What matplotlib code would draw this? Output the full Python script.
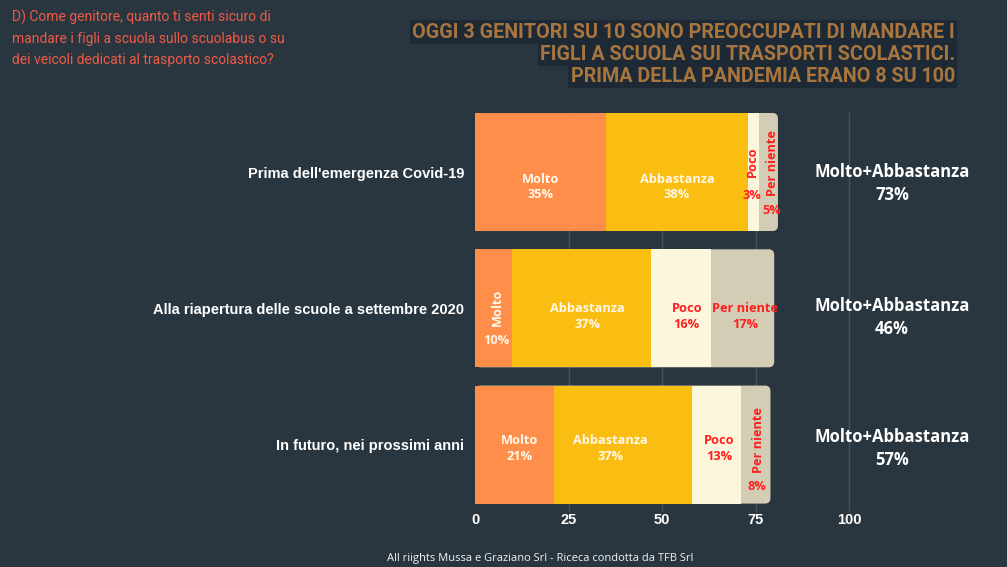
import matplotlib
matplotlib.use("Agg")
import matplotlib.pyplot as plt
from matplotlib.patches import FancyBboxPatch

# ---------------- data ----------------
categories = ["Prima dell'emergenza Covid-19",
              "Alla riapertura delle scuole a settembre 2020",
              "In futuro, nei prossimi anni"]
segment_names = ["Molto", "Abbastanza", "Poco", "Per niente"]
molto = [35, 10, 21]
abbastanza = [38, 37, 37]
poco = [3, 16, 13]
per_niente = [5, 17, 8]
molto_abbastanza = [73, 46, 57]
xticks = [0, 25, 50, 75, 100]
summary_label = "Molto+Abbastanza"
question = ("D) Come genitore, quanto ti senti sicuro di\n"
            "mandare i figli a scuola sullo scuolabus o su\n"
            "dei veicoli dedicati al trasporto scolastico?")
title_lines = ["OGGI 3 GENITORI SU 10 SONO PREOCCUPATI DI MANDARE I",
               "FIGLI A SCUOLA SUI TRASPORTI SCOLASTICI.",
               "PRIMA DELLA PANDEMIA ERANO 8 SU 100"]
footer = "All riights Mussa e Graziano Srl - Riceca condotta da TFB Srl"

# ---------------- style ----------------
BG = "#2a363f"
TITLE_BG = "#1d2a35"
TITLE_C = "#a8753f"
Q_C = "#ee5a47"
seg_colors = ["#ff8e4b", "#f9be11", "#fcf7dc", "#d3cdb6"]
seg_text = ["#fff8ea", "#fff8ea", "#ff1f1f", "#ff1f1f"]
LBL_FONT = ["Open Sans", "DejaVu Sans"]
ARIAL = ["Liberation Sans", "DejaVu Sans"]

W, H = 1007, 567
fig = plt.figure(figsize=(W / 100, H / 100), dpi=100, facecolor=BG)

ax_l, ax_r, ax_t, ax_b = 475, 849, 113, 510
ax = fig.add_axes([ax_l / W, 1 - ax_b / H, (ax_r - ax_l) / W, (ax_b - ax_t) / H])
ax.set_facecolor(BG)
ax.set_xlim(0, 100)
ylo, yhi = 2.48, -0.433
ax.set_ylim(ylo, yhi)
px_x = (ax_r - ax_l) / 100.0
px_y = (ax_b - ax_t) / (ylo - yhi)

bar_h = 0.866
ypos = list(range(len(categories)))
series = [molto, abbastanza, poco, per_niente]

for i in ypos:
    total = sum(s[i] for s in series)
    r = 5.5 / px_x
    patch = FancyBboxPatch((0, i - bar_h / 2), total, bar_h,
                           boxstyle=f"round,pad=0,rounding_size={r}",
                           mutation_aspect=(5.5 / px_y) / r,
                           facecolor=seg_colors[3], edgecolor="none", zorder=2)
    ax.add_patch(patch)

left = [0] * len(categories)
for k in range(3):
    ax.barh(ypos, series[k], left=left, height=bar_h, color=seg_colors[k],
            edgecolor="none", zorder=3)
    left = [a + b for a, b in zip(left, series[k])]

# label placement (pixel offsets from segment centre); 'v' => rotated name
layout = {
    (0, 0): ("h", 0, 15), (0, 1): ("h", 0, 15),
    (0, 2): ("v", -1.0, -10, -1.5, 23), (0, 3): ("v", 3.5, -9, 3.2, 38),
    (1, 0): ("v", 3.5, -1, 2.7, 32), (1, 1): ("h", 6, 8),
    (1, 2): ("h", 6, 8), (1, 3): ("h", 3, 8),
    (2, 0): ("h", 5, 4), (2, 1): ("h", -12, 4),
    (2, 2): ("h", 3, 4), (2, 3): ("v", 3.5, -4.5, 1.5, 41.5),
}
summary_dy = [11.5, 9.5, 4]
fs = 9.2
for i in ypos:
    start = 0
    for k in range(4):
        v = series[k][i]
        cx = start + v / 2
        spec = layout[(i, k)]
        if spec[0] == "h":
            ax.text(cx + spec[1] / px_x, i + spec[2] / px_y,
                    f"{segment_names[k]}\n{v}%", ha="center", va="center",
                    fontsize=fs, fontweight="bold", color=seg_text[k],
                    family=LBL_FONT, linespacing=1.25, zorder=5)
        else:
            ax.text(cx + spec[1] / px_x, i + spec[2] / px_y, segment_names[k],
                    rotation=90, ha="center", va="center", fontsize=fs,
                    fontweight="bold", color=seg_text[k], family=LBL_FONT, zorder=5)
            ax.text(cx + spec[3] / px_x, i + spec[4] / px_y, f"{v}%",
                    ha="center", va="center", fontsize=fs, fontweight="bold",
                    color=seg_text[k], family=LBL_FONT, zorder=5)
        start += v

# summary on the right
for i in ypos:
    ax.text(111.5, i + summary_dy[i] / px_y,
            f"{summary_label}\n{molto_abbastanza[i]}%", ha="center",
            va="center", fontsize=12, fontweight="bold", color="#ffffff",
            family=LBL_FONT, linespacing=1.35, clip_on=False)

# axes styling
ax.set_yticks(ypos)
ax.set_yticklabels(categories, fontsize=10.5, fontweight="bold",
                   color="#ffffff", family=ARIAL)
ax.set_xticks(xticks)
ax.set_xticklabels([str(t) for t in xticks], fontsize=10.5, fontweight="bold",
                   color="#ffffff", family=ARIAL)
ax.tick_params(axis="both", length=0)
ax.tick_params(axis="y", pad=8)
ax.tick_params(axis="x", pad=2)
for s in ax.spines.values():
    s.set_visible(False)
ax.grid(axis="x", color="#46525a", linewidth=1, zorder=0)
ax.grid(axis="y", visible=False)
ax.set_axisbelow(True)
for gl in ax.get_xgridlines():
    gl.set_clip_on(False)
ax.get_xgridlines()[0].set_visible(False)

# question text
fig.text(12 / W, 1 - 10 / H, question, ha="left", va="top", fontsize=10,
         color=Q_C, family=["Roboto", "DejaVu Sans"], linespacing=1.6)

# title lines with individual dark boxes
title_y = [32, 54, 76]
for line, y in zip(title_lines, title_y):
    fig.text(955 / W, 1 - y / H, line, ha="right", va="center", fontsize=14.2,
             fontweight="bold", color=TITLE_C, family=["Roboto", "DejaVu Sans"],
             bbox=dict(boxstyle="square,pad=0.12", facecolor=TITLE_BG,
                       edgecolor="none"))

fig.text(540 / W, 1 - 559 / H, footer, ha="center", va="center", fontsize=8,
         color="#f2f2f2", family=LBL_FONT)

fig.savefig("out.png", dpi=100, facecolor=BG)
